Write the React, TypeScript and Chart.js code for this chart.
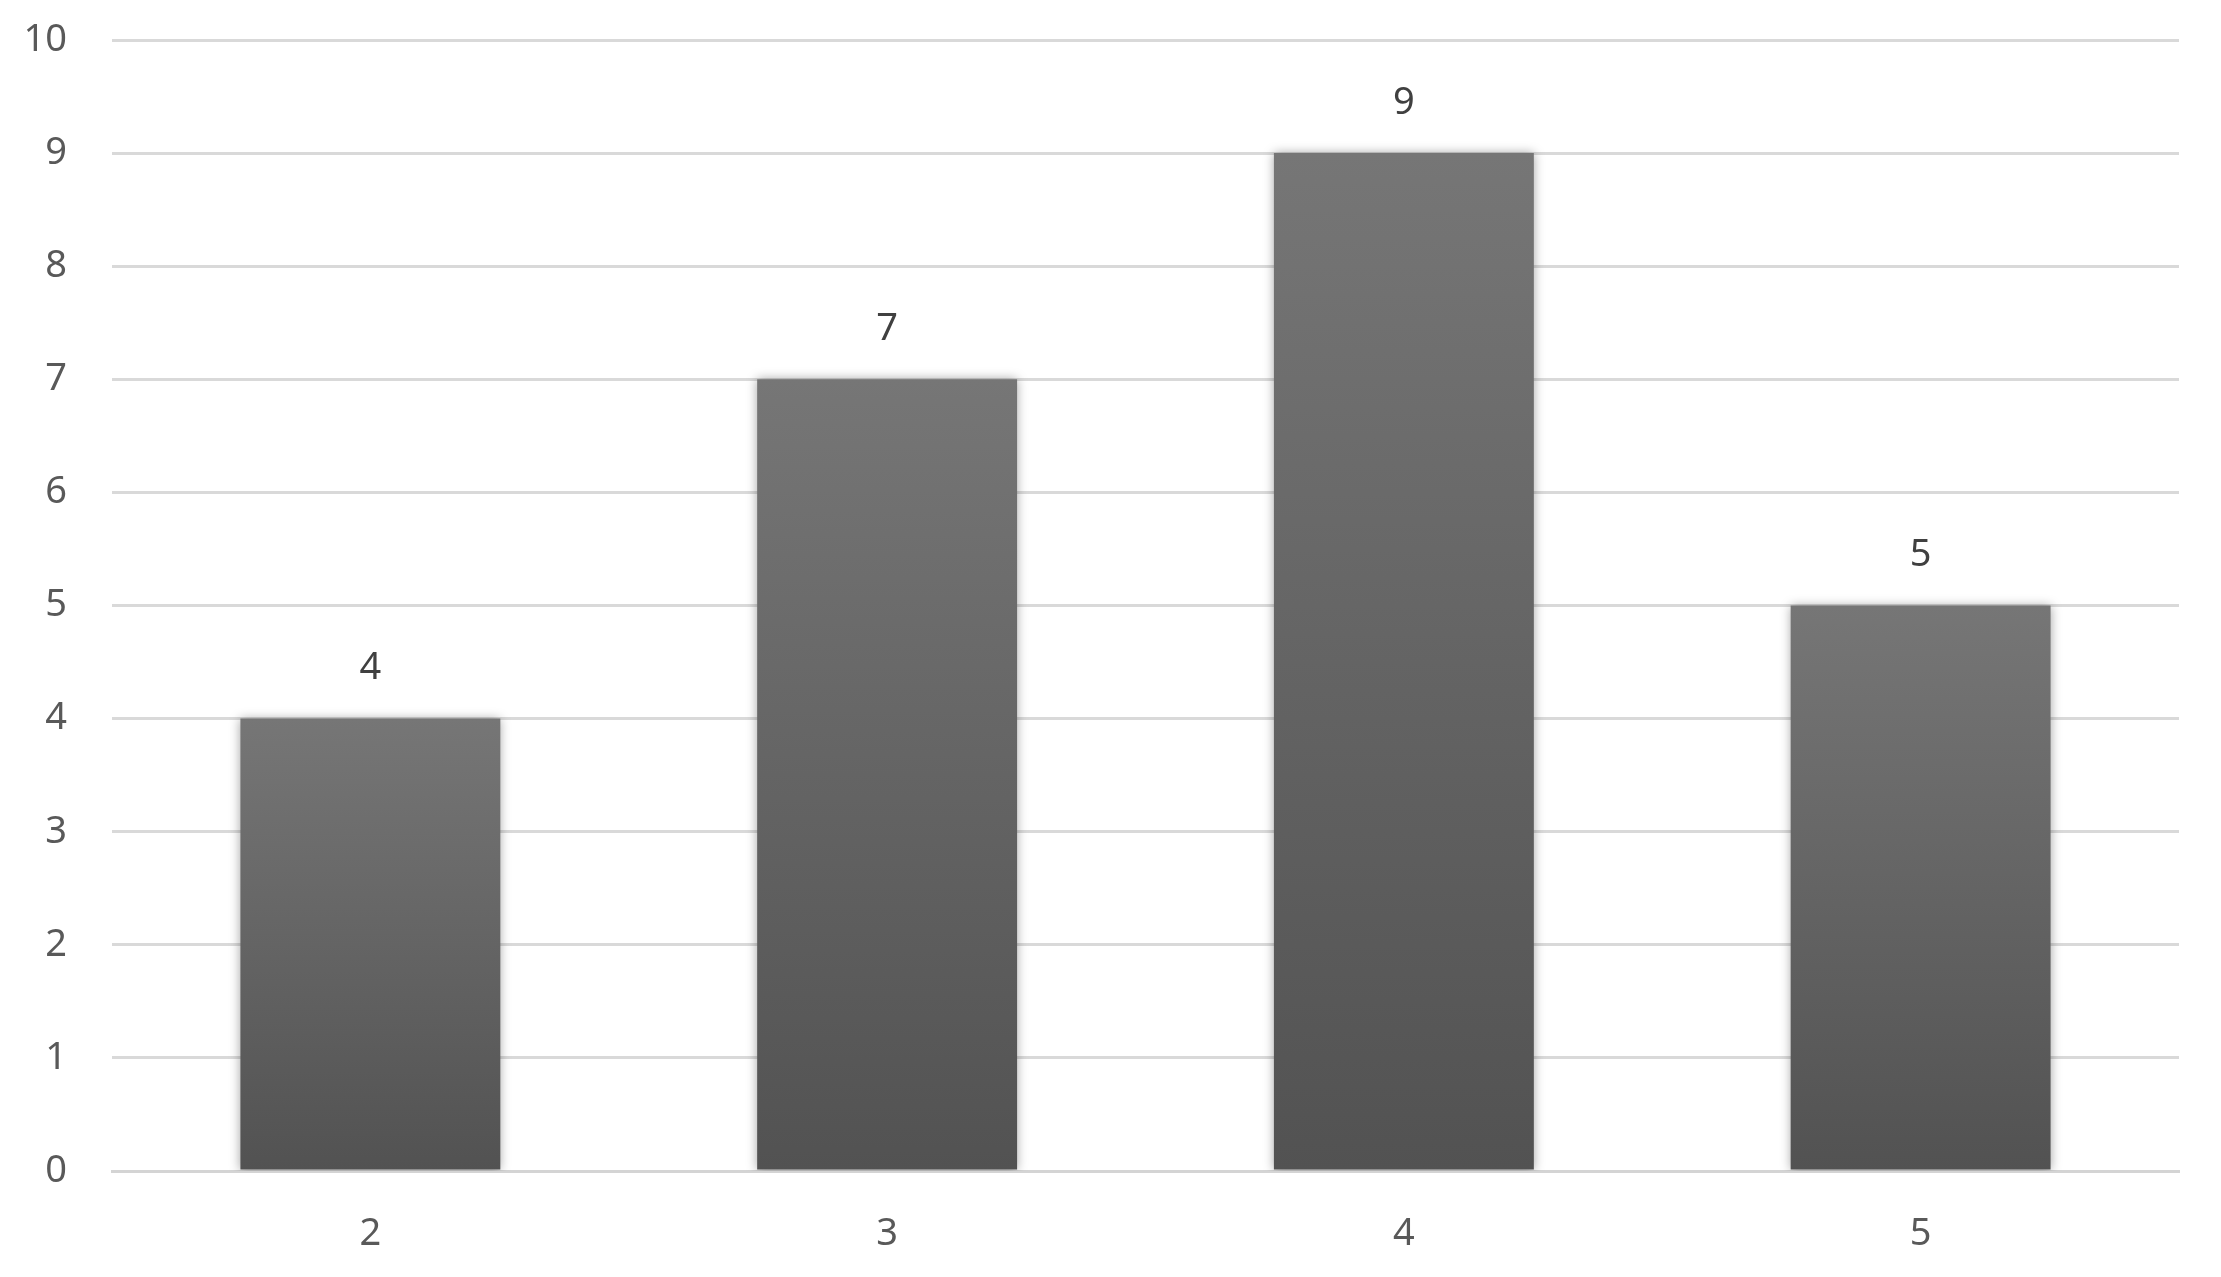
import React, { useEffect, useRef } from "react";
import { Chart, registerables } from "chart.js";

Chart.register(...registerables);

const categories = ["2", "3", "4", "5"];
const values = [4, 7, 9, 5];
const yTicks = [0, 1, 2, 3, 4, 5, 6, 7, 8, 9, 10];

const FONT = "'Noto Sans', 'Open Sans', sans-serif";

export default function App() {
  const ref = useRef<HTMLCanvasElement | null>(null);
  useEffect(() => {
    const canvas = ref.current;
    if (!canvas) return;
    const shadowPlugin = {
      id: "barShadow",
      beforeDatasetsDraw(chart: any) {
        const ctx = chart.ctx;
        ctx.save();
        ctx.shadowColor = "rgba(0,0,0,0.35)";
        ctx.shadowBlur = 10;
        ctx.shadowOffsetX = 0;
        ctx.shadowOffsetY = 0;
      },
      afterDatasetsDraw(chart: any) {
        chart.ctx.restore();
        const ctx = chart.ctx;
        const meta = chart.getDatasetMeta(0);
        ctx.save();
        ctx.fillStyle = "#404040";
        ctx.font = `38px ${FONT}`;
        ctx.textAlign = "center";
        ctx.textBaseline = "middle";
        meta.data.forEach((el: any, i: number) => {
          ctx.fillText(String(values[i]), el.x, el.y - 50);
        });
        ctx.restore();
      },
    };
    const chart = new Chart(canvas, {
      type: "bar",
      data: {
        labels: categories,
        datasets: [
          {
            data: values,
            borderWidth: 0,
            categoryPercentage: 1,
            barPercentage: 0.503,
            backgroundColor: (c: any) => {
              const chartObj = c.chart;
              const area = chartObj.chartArea;
              if (!area || c.raw == null) return "#606060";
              const top = chartObj.scales.y.getPixelForValue(c.raw);
              const bottom = chartObj.scales.y.getPixelForValue(0);
              const g = chartObj.ctx.createLinearGradient(0, top, 0, bottom);
              g.addColorStop(0, "#767676");
              g.addColorStop(1, "#525252");
              return g;
            },
          },
        ],
      },
      options: {
        animation: false,
        responsive: false,
        maintainAspectRatio: false,
        layout: { padding: { top: 40, right: 42, left: 0, bottom: 0 } },
        plugins: { legend: { display: false }, tooltip: { enabled: false } },
        scales: {
          x: {
            grid: { display: false, drawTicks: false },
            border: { display: true, color: "#d4d4d4", width: 3 },
            ticks: {
              color: "#595959",
              font: { family: FONT, size: 38 },
              padding: 40,
            },
            afterFit: (s: any) => {
              s.height = 1277 - 1171;
              s.paddingLeft = 0;
              s.paddingRight = 0;
            },
          },
          y: {
            min: 0,
            max: 10,
            afterBuildTicks: (s: any) => {
              s.ticks = yTicks.map((v) => ({ value: v }));
            },
            grid: { color: "#d9d9d9", lineWidth: 3, drawTicks: false },
            border: { display: false },
            ticks: {
              color: "#595959",
              font: { family: FONT, size: 38 },
              padding: 45,
            },
            afterFit: (s: any) => {
              s.width = 112;
              s.paddingTop = 0;
              s.paddingBottom = 0;
            },
          },
        },
      },
      plugins: [shadowPlugin],
    });
    return () => chart.destroy();
  }, []);
  return (
    <div style={{ position: "fixed", left: 0, top: 0, width: 2221, height: 1277, background: "#fff" }}>
      <canvas ref={ref} width={2221} height={1277} style={{ width: 2221, height: 1277, display: "block" }} />
    </div>
  );
}
